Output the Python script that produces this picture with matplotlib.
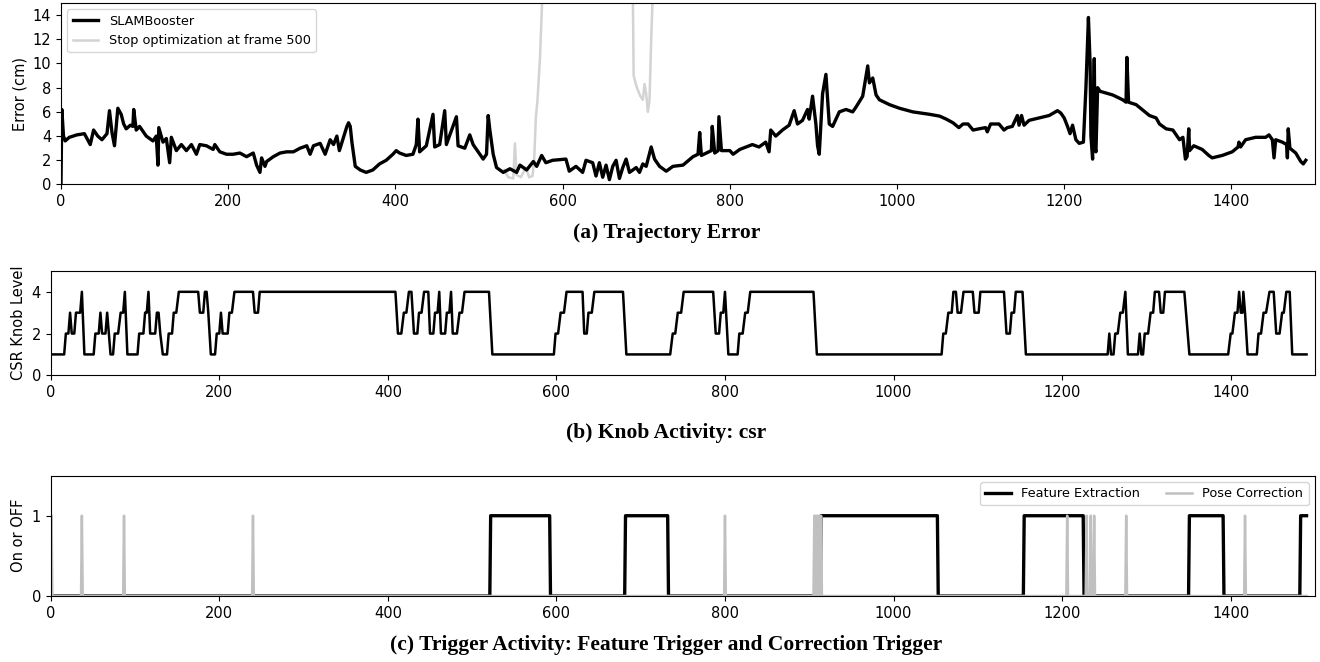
import numpy as np
import matplotlib
matplotlib.use("Agg")
from matplotlib import pyplot as plt

''' 
    trajectory error, csr knob level and trigger activity per frame
    values read off the reference picture
'''

# (a) trajectory error, SLAMBooster
slam_frames = [0, 1, 3, 5, 10, 19, 28, 35, 39, 44, 49, 55, 58, 61, 64, 68, 72, 75, 78, 83,
               86, 87, 90, 94, 102, 110, 114, 116, 117, 122, 126, 130, 132, 138, 144, 150, 156, 162, 166, 174,
               182, 184, 190, 198, 206, 214, 222, 230, 234, 238, 240, 244, 246, 254, 262, 270, 278, 286, 294, 298,
               302, 310, 316, 322, 326, 330, 333, 338, 342, 344, 346, 348, 352, 358, 365, 373, 381, 389, 397, 401,
               405, 413, 421, 425, 427, 429, 437, 445, 447, 453, 459, 461, 473, 475, 483, 489, 493, 505, 509, 511,
               513, 517, 521, 529, 537, 545, 549, 557, 565, 569, 575, 580, 588, 604, 608, 616, 624, 628, 636, 640,
               644, 648, 652, 656, 660, 664, 668, 672, 676, 680, 688, 692, 696, 700, 706, 710, 716, 724, 732, 744,
               756, 762, 764, 766, 772, 778, 779, 782, 786, 787, 790, 800, 804, 812, 827, 835, 843, 847, 849, 855,
               863, 871, 877, 881, 887, 893, 895, 899, 903, 905, 907, 911, 915, 919, 923, 931, 939, 947, 951, 959,
               965, 967, 971, 975, 979, 991, 1003, 1019, 1039, 1051, 1059, 1067, 1074, 1079, 1085, 1091, 1098, 1106, 1108, 1112,
               1122, 1128, 1132, 1138, 1144, 1146, 1149, 1152, 1158, 1170, 1182, 1192, 1196, 1200, 1204, 1207, 1210, 1214, 1218, 1223,
               1226, 1229, 1231, 1232, 1234, 1236, 1237, 1238, 1240, 1243, 1258, 1270, 1274, 1275, 1277, 1286, 1294, 1302, 1310, 1314,
               1322, 1330, 1338, 1342, 1345, 1347, 1349, 1350, 1355, 1365, 1373, 1377, 1389, 1401, 1408, 1409, 1411, 1417, 1429, 1441,
               1445, 1449, 1451, 1453, 1461, 1466, 1467, 1468, 1470, 1477, 1483, 1486, 1489]
slam_err = [0.0, 6.2, 4.0, 3.6, 3.9, 4.1, 4.2, 3.3, 4.5, 4.0, 3.7, 4.2, 6.1, 4.3, 3.2, 6.3, 5.8, 5.0, 4.6, 4.9,
            4.8, 6.2, 4.5, 4.8, 4.0, 3.6, 4.0, 1.6, 4.7, 3.5, 3.8, 1.8, 3.9, 2.8, 3.3, 2.8, 3.3, 2.5, 3.3, 3.2,
            2.9, 3.3, 2.7, 2.5, 2.5, 2.6, 2.3, 2.6, 1.6, 1.0, 2.2, 1.5, 1.9, 2.3, 2.6, 2.7, 2.7, 3.0, 3.2, 2.5,
            3.2, 3.4, 2.5, 3.7, 3.3, 4.0, 2.8, 3.9, 4.8, 5.1, 4.8, 3.5, 1.5, 1.2, 1.0, 1.2, 1.7, 2.0, 2.5, 2.8,
            2.6, 2.4, 2.5, 3.3, 5.4, 2.7, 3.2, 5.8, 3.1, 3.3, 6.1, 3.3, 5.6, 3.2, 3.0, 4.1, 3.3, 2.1, 2.5, 5.7,
            4.5, 2.5, 1.4, 1.0, 1.3, 1.0, 1.6, 1.2, 1.9, 1.5, 2.4, 1.8, 2.0, 2.1, 1.1, 1.5, 1.0, 2.0, 1.8, 0.7,
            1.8, 0.6, 1.6, 0.4, 1.5, 2.0, 0.5, 1.4, 2.1, 1.0, 1.4, 1.0, 1.7, 1.5, 3.1, 2.1, 1.5, 1.1, 1.5, 1.6,
            2.3, 2.5, 4.3, 2.4, 2.6, 2.8, 4.8, 2.6, 2.8, 5.6, 2.8, 2.8, 2.5, 2.9, 3.3, 3.1, 3.5, 2.7, 4.5, 4.0,
            4.5, 4.9, 6.1, 5.0, 5.3, 6.2, 5.4, 7.3, 5.0, 3.2, 2.5, 7.5, 9.1, 5.0, 4.8, 6.0, 6.2, 6.0, 6.4, 7.3,
            9.8, 8.4, 8.8, 7.4, 7.0, 6.6, 6.3, 6.0, 5.8, 5.65, 5.4, 5.1, 4.7, 5.0, 5.0, 4.5, 4.6, 4.7, 4.35, 5.0,
            5.0, 4.5, 4.7, 4.8, 5.7, 4.9, 5.7, 4.9, 5.3, 5.5, 5.7, 6.1, 5.9, 5.5, 4.8, 4.2, 4.9, 3.7, 3.4, 3.5,
            8.0, 13.8, 10.0, 4.0, 2.1, 10.4, 3.0, 2.7, 8.0, 7.7, 7.4, 7.0, 6.8, 10.5, 6.8, 6.6, 6.15, 5.7, 5.5, 5.0,
            4.6, 4.5, 3.7, 3.9, 2.1, 2.3, 4.6, 2.8, 3.2, 2.9, 2.4, 2.2, 2.4, 2.7, 3.1, 3.5, 3.1, 3.7, 3.9, 3.9,
            4.1, 3.7, 2.2, 3.7, 3.5, 3.3, 2.2, 4.6, 3.0, 2.6, 1.9, 1.7, 2.0]

# (a) trajectory error when optimization stops at frame 500 (goes off the scale)
stop_frames = [530, 535, 541, 543, 545, 550, 556, 560, 564, 566, 568, 570, 573, 576, 580,
               680, 684, 685, 688, 690, 693, 696, 698, 700, 702, 704, 706, 708, 712]
stop_err = [1.2, 0.6, 0.5, 3.4, 0.8, 0.6, 1.4, 0.6, 0.7, 2.0, 5.5, 7.0, 10.5, 16.0, 40.0,
            40.0, 16.0, 9.0, 8.2, 7.8, 7.3, 7.0, 8.3, 7.5, 6.0, 7.0, 12.0, 16.0, 40.0]

# (b) csr knob level
csr_frames = [0, 16, 18, 21, 23, 25, 28, 30, 35, 37, 40, 51, 53, 57, 59, 61, 65, 67, 69, 71,
              74, 76, 80, 83, 86, 88, 91, 103, 105, 110, 112, 114, 116, 118, 124, 126, 128, 130, 133, 138,
              140, 144, 146, 149, 152, 175, 177, 181, 183, 185, 187, 190, 195, 197, 200, 202, 204, 210, 212, 215,
              218, 240, 242, 246, 248, 409, 412, 416, 419, 422, 425, 428, 431, 435, 437, 440, 443, 448, 450, 454,
              456, 459, 461, 463, 468, 470, 473, 475, 477, 482, 485, 488, 491, 520, 524, 597, 599, 602, 605, 609,
              612, 631, 633, 636, 638, 642, 645, 679, 683, 735, 738, 741, 744, 748, 751, 786, 789, 793, 795, 798,
              800, 804, 815, 817, 821, 824, 827, 830, 905, 909, 1057, 1059, 1062, 1065, 1069, 1071, 1074, 1076, 1080, 1083,
              1094, 1096, 1101, 1103, 1131, 1134, 1138, 1140, 1143, 1145, 1153, 1157, 1254, 1256, 1258, 1261, 1263, 1266, 1269, 1272,
              1275, 1278, 1290, 1292, 1294, 1296, 1298, 1302, 1305, 1308, 1310, 1315, 1317, 1320, 1322, 1345, 1347, 1351, 1397, 1400,
              1402, 1405, 1408, 1410, 1412, 1414, 1415, 1417, 1420, 1431, 1433, 1436, 1439, 1442, 1446, 1451, 1454, 1458, 1461, 1463,
              1466, 1470, 1473, 1490]
csr_level = [1, 1, 2, 2, 3, 2, 2, 3, 3, 4, 1, 1, 2, 2, 3, 2, 2, 3, 2, 1,
             1, 2, 2, 3, 3, 4, 1, 1, 2, 2, 3, 3, 4, 2, 2, 3, 3, 2, 1, 1,
             2, 2, 3, 3, 4, 4, 3, 3, 4, 4, 3, 1, 1, 2, 2, 3, 2, 2, 3, 3,
             4, 4, 3, 3, 4, 4, 2, 2, 3, 3, 4, 4, 2, 2, 3, 3, 4, 4, 2, 2,
             3, 3, 4, 2, 2, 3, 3, 4, 2, 2, 3, 3, 4, 4, 1, 1, 2, 2, 3, 3,
             4, 4, 2, 2, 3, 3, 4, 4, 1, 1, 2, 2, 3, 3, 4, 4, 2, 2, 3, 3,
             4, 1, 1, 2, 2, 3, 3, 4, 4, 1, 1, 2, 2, 3, 3, 4, 4, 3, 3, 4,
             4, 3, 3, 4, 4, 2, 2, 3, 3, 4, 4, 1, 1, 2, 1, 1, 2, 2, 3, 3,
             4, 1, 1, 2, 1, 1, 2, 2, 3, 3, 4, 4, 3, 3, 4, 4, 3, 1, 1, 2,
             2, 3, 3, 4, 3, 3, 4, 3, 1, 1, 2, 2, 3, 3, 4, 4, 2, 2, 3, 3,
             4, 4, 1, 1]

# (c) trigger activity
feat_frames = [0, 521, 522, 592, 593, 681, 682, 732, 733, 913, 914, 1052, 1053, 1154, 1155,
               1225, 1226, 1350, 1351, 1391, 1392, 1482, 1483, 1490]
feat_on = [0, 0, 1, 1, 0, 0, 1, 1, 0, 0, 1, 1, 0, 0, 1, 1, 0, 0, 1, 1, 0, 0, 1, 1]

pose_frames = [0, 1, 2, 36, 37, 38, 86, 87, 88, 239, 240, 241, 799, 800, 801,
               905, 906, 907, 908, 909, 910, 911, 912, 913, 914, 915,
               1205, 1206, 1207, 1228, 1229, 1230, 1233, 1234, 1235, 1237, 1238, 1239,
               1275, 1276, 1277, 1416, 1417, 1418, 1490]
pose_on = [0, 1, 0, 0, 1, 0, 0, 1, 0, 0, 1, 0, 0, 1, 0,
           0, 1, 0, 1, 0, 1, 0, 1, 0, 1, 0,
           0, 1, 0, 0, 1, 0, 0, 1, 0, 0, 1, 0,
           0, 1, 0, 0, 1, 0, 0]

plt.rcParams['font.family'] = 'DejaVu Sans'
plt.rcParams['font.size'] = 10.5
plt.rcParams['legend.fontsize'] = 9.3

fig = plt.figure(figsize=(13.2, 6.62), dpi=100)

captionfont = dict(family='Liberation Serif', weight='bold', size=15.5, ha='center', va='center')

# (a)
ax1 = fig.add_axes([0.0462, 0.7213, 0.95, 0.2742])
ax1.plot(slam_frames, slam_err, color='black', lw=2.4, label='SLAMBooster', zorder=3)
ax1.plot(stop_frames, stop_err, color='lightgray', lw=1.8, label='Stop optimization at frame 500', zorder=2)
ax1.set_xlim(0, 1500)
ax1.set_ylim(0, 15)
ax1.set_yticks(np.arange(0, 15, 2))
ax1.set_ylabel('Error (cm)')
ax1.legend(loc='upper left')
fig.text(0.505, 1 - 233 / 662, '(a) Trajectory Error', **captionfont)

# (b)
ax2 = fig.add_axes([0.0384, 0.4331, 0.9578, 0.1576])
ax2.plot(csr_frames, csr_level, color='black', lw=1.8)
ax2.set_xlim(0, 1500)
ax2.set_ylim(0, 5)
ax2.set_yticks([0, 2, 4])
ax2.set_ylabel('CSR Knob Level')
fig.text(0.505, 1 - 433 / 662, '(b) Knob Activity: csr', **captionfont)

# (c)
ax3 = fig.add_axes([0.0384, 0.0997, 0.9578, 0.1819])
ax3.plot(feat_frames, feat_on, color='black', lw=2.4, label='Feature Extraction')
ax3.plot(pose_frames, pose_on, color='silver', lw=1.8, label='Pose Correction')
ax3.set_xlim(0, 1500)
ax3.set_ylim(0, 1.5)
ax3.set_yticks([0, 1])
ax3.set_ylabel('On or OFF')
ax3.legend(loc='upper right', ncol=2)
fig.text(0.505, 1 - 645 / 662, '(c) Trigger Activity: Feature Trigger and Correction Trigger', **captionfont)

fig.savefig('out.png', dpi=100)
